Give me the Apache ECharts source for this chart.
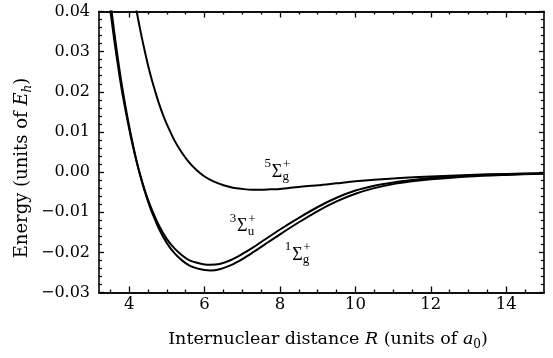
<!DOCTYPE html>
<html><head><meta charset="utf-8">
<script src="https://cdn.jsdelivr.net/npm/echarts@6/dist/echarts.min.js"></script>
<style>html,body{margin:0;padding:0;background:#fff}#c{width:553px;height:358px}</style>
</head><body><div id="c"></div>
<script>
// Internuclear distance R (a0) and energies (Eh)
const R_1SG = [3.4, 3.5, 3.6, 3.7, 3.8, 3.9, 4.0, 4.1, 4.2, 4.3, 4.4, 4.5, 4.6, 4.8, 5.0, 5.2, 5.4, 5.6, 5.8, 6.0, 6.15, 6.4, 6.7, 7.0, 7.3, 7.6, 8.0, 8.5, 9.0, 9.5, 10.0, 10.5, 11.0, 11.5, 12.0, 13.0, 14.0, 15.0];
const E_1SG = [0.0511, 0.0428, 0.0352, 0.0283, 0.0220, 0.0165, 0.0114, 0.0068, 0.0026, -0.0011, -0.0044, -0.0073, -0.0099, -0.0143, -0.0177, -0.0202, -0.0220, -0.0233, -0.0240, -0.0244, -0.0245, -0.0242, -0.0232, -0.0217, -0.0199, -0.0180, -0.0155, -0.0125, -0.0097, -0.0073, -0.0054, -0.0040, -0.0030, -0.0023, -0.0018, -0.0011, -0.0007, -0.0004];

const R_3SU = [3.4, 3.5, 3.6, 3.7, 3.8, 3.9, 4.0, 4.1, 4.2, 4.3, 4.4, 4.5, 4.6, 4.8, 5.0, 5.2, 5.4, 5.6, 5.8, 6.0, 6.15, 6.4, 6.7, 7.0, 7.3, 7.6, 8.0, 8.5, 9.0, 9.5, 10.0, 10.5, 11.0, 11.5, 12.0, 13.0, 14.0, 15.0];
const E_3SU = [0.0482, 0.0404, 0.0332, 0.0267, 0.0207, 0.0156, 0.0108, 0.0064, 0.0025, -0.0010, -0.0041, -0.0069, -0.0093, -0.0135, -0.0167, -0.0190, -0.0207, -0.0220, -0.0226, -0.0230, -0.0231, -0.0229, -0.0219, -0.0204, -0.0187, -0.0168, -0.0143, -0.0114, -0.0087, -0.0064, -0.0046, -0.0034, -0.0026, -0.0020, -0.0015, -0.0009, -0.0006, -0.0003];

const R_5SG = [4.1, 4.2, 4.3, 4.4, 4.5, 4.6, 4.7, 4.8, 4.9, 5.0, 5.2, 5.4, 5.6, 5.8, 6.0, 6.25, 6.5, 6.75, 7.0, 7.25, 7.5, 7.75, 8.0, 8.5, 9.0, 9.5, 10.0, 11.0, 12.0, 13.0, 14.0, 15.0];
const E_5SG = [0.0456, 0.0400, 0.0351, 0.0307, 0.0266, 0.0230, 0.0198, 0.0168, 0.0142, 0.0119, 0.0079, 0.0048, 0.0023, 0.0004, -0.0011, -0.0024, -0.0033, -0.0039, -0.0042, -0.0044, -0.0044, -0.0043, -0.0042, -0.0037, -0.0033, -0.0028, -0.0023, -0.0016, -0.0011, -0.0007, -0.00045, -0.0003];

const X_MAJOR = [4, 6, 8, 10, 12, 14];
const X_MINOR = [3.5, 4.5, 5, 5.5, 6.5, 7, 7.5, 8.5, 9, 9.5, 10.5, 11, 11.5, 12.5, 13, 13.5, 14.5];

// term symbol labels: [left superscript, sub letter, R, E]
const TERM_LABELS = [
  ['5', 'g', 7.92, 0.0],
  ['3', 'u', 7.0, -0.0135],
  ['1', 'g', 8.46, -0.0206]
];

const FONT = 'DejaVu Serif';
const SYM_FONT = 'Liberation Serif';
const chart = echarts.init(document.getElementById('c'), null, {renderer: 'canvas'});

function pairs(xs, ys) { return xs.map((x, i) => [x, ys[i]]); }

function xAx(pos, ticks, len, labels) {
  return {
    type: 'value', position: pos, min: 3.2, max: 15,
    axisLine: {show: true, onZero: false, lineStyle: {color: '#000', width: 1.6}},
    axisTick: {show: true, inside: true, length: len, customValues: ticks, lineStyle: {color: '#000', width: 1.3}},
    axisLabel: labels ? {show: true, customValues: ticks, color: '#000', fontFamily: FONT, fontSize: 16.5, margin: 4} : {show: false},
    splitLine: {show: false}
  };
}
function yAx(pos, labels) {
  return {
    type: 'value', position: pos, min: -0.03, max: 0.04, interval: 0.01,
    axisLine: {show: true, onZero: false, lineStyle: {color: '#000', width: 1.6}},
    axisTick: {show: true, inside: true, length: 5, lineStyle: {color: '#000', width: 1.3}},
    minorTick: {show: true, splitNumber: 5, length: 3, lineStyle: {color: '#000', width: 1.2}},
    axisLabel: labels ? {show: true, color: '#000', fontFamily: FONT, fontSize: 16, margin: 9,
      formatter: v => (v < -1e-9 ? '\u2212' : '') + Math.abs(v).toFixed(2)} : {show: false},
    splitLine: {show: false}
  };
}

const lineStyle = {color: '#000', width: 2};
chart.setOption({
  animation: false,
  backgroundColor: '#fff',
  grid: {left: 99, right: 9, top: 11.5, bottom: 65.5, containLabel: false},
  xAxis: [xAx('bottom', X_MAJOR, 6, true), xAx('bottom', X_MINOR, 3, false), xAx('top', X_MAJOR, 6, false), xAx('top', X_MINOR, 3, false)],
  yAxis: [yAx('left', true), yAx('right', false)],
  series: [
    {type: 'line', name: '1Sg', data: pairs(R_1SG, E_1SG), showSymbol: false, smooth: 0.3, lineStyle, clip: true},
    {type: 'line', name: '3Su', data: pairs(R_3SU, E_3SU), showSymbol: false, smooth: 0.3, lineStyle, clip: true},
    {type: 'line', name: '5Sg', data: pairs(R_5SG, E_5SG), showSymbol: false, smooth: 0.3, lineStyle, clip: true}
  ]
});

const graphics = [];
TERM_LABELS.forEach(([sup, sub, r, e]) => {
  const [cx, cy] = chart.convertToPixel({xAxisIndex: 0, yAxisIndex: 0}, [r, e]);
  const base = {fill: '#000', fontFamily: SYM_FONT};
  graphics.push({type: 'text', x: cx, y: cy, style: Object.assign({text: 'Σ', fontSize: 18, align: 'center', verticalAlign: 'middle'}, base)});
  graphics.push({type: 'text', x: cx - 6, y: cy - 8, style: Object.assign({text: sup, fontSize: 13, align: 'right', verticalAlign: 'middle'}, base)});
  graphics.push({type: 'text', x: cx + 6, y: cy - 7, style: Object.assign({text: '+', fontSize: 13, align: 'left', verticalAlign: 'middle'}, base)});
  graphics.push({type: 'text', x: cx + 5.5, y: cy + 5, style: Object.assign({text: sub, fontSize: 13, align: 'left', verticalAlign: 'middle'}, base)});
});
graphics.push({
  type: 'text', x: 328, y: 339,
  style: {
    text: '{n|Internuclear distance }{i|R}{n| (units of }{i|a}{s|0}{n|)}',
    align: 'center', verticalAlign: 'middle', fill: '#000',
    rich: {
      n: {fontFamily: FONT, fontSize: 17.5, lineHeight: 24, verticalAlign: 'middle'},
      i: {fontFamily: FONT, fontSize: 17.5, fontStyle: 'italic', lineHeight: 24, verticalAlign: 'middle'},
      s: {fontFamily: FONT, fontSize: 12, lineHeight: 12, verticalAlign: 'bottom'}
    }
  }
});
graphics.push({
  type: 'text', x: 22, y: 168, rotation: Math.PI / 2,
  style: {
    text: '{n|Energy (units of }{i|E}{s|h}{n|)}',
    align: 'center', verticalAlign: 'middle', fill: '#000',
    rich: {
      n: {fontFamily: FONT, fontSize: 18, lineHeight: 24, verticalAlign: 'middle'},
      i: {fontFamily: FONT, fontSize: 18, fontStyle: 'italic', lineHeight: 24, verticalAlign: 'middle'},
      s: {fontFamily: FONT, fontSize: 12, fontStyle: 'italic', lineHeight: 12, verticalAlign: 'bottom'}
    }
  }
});
chart.setOption({graphic: graphics});
</script>
</body></html>
